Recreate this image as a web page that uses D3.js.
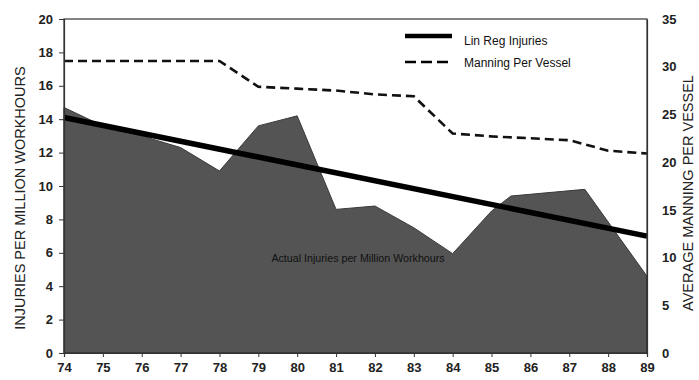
<!DOCTYPE html>
<html><head><meta charset="utf-8">
<script src="https://cdn.jsdelivr.net/npm/d3@7"></script>
<style>
html,body{margin:0;padding:0;background:#fff;}
text{font-family:"Liberation Sans",Arial,sans-serif;}
</style></head>
<body><svg id="c" width="699" height="380"></svg>
<script>
// ---- data ----
const yearTicks = [74,75,76,77,78,79,80,81,82,83,84,85,86,87,88,89];
const leftTicks = [0,2,4,6,8,10,12,14,16,18,20];
const rightTicks = [0,5,10,15,20,25,30,35];
const injuryYears  = [74, 75, 76, 77, 78, 79, 80, 81, 82, 83, 84, 85, 85.5, 87.4, 89];
const injuryValues = [14.7,13.6,13.0,12.3,10.9,13.6,14.2,8.6,8.8,7.5,5.95,8.5,9.4,9.8,4.6];
const regYears  = [74, 89];
const regValues = [14.1, 7.0];
const manningYears  = [74,75,76,77,78,79,80,81,82,83,84,85,86,87,88,89];
const manningValues = [30.6,30.6,30.6,30.6,30.6,27.9,27.7,27.5,27.1,26.9,23.0,22.7,22.5,22.3,21.2,20.9];
const legendLabels = ["Lin Reg Injuries","Manning Per Vessel"];
const areaLabel = "Actual Injuries per Million Workhours";
const leftTitle = "INJURIES PER MILLION WORKHOURS";
const rightTitle = "AVERAGE MANNING PER VESSEL";

// ---- layout ----
const svg = d3.select("#c");
const X0 = 64, X1 = 647, Y0 = 353, Y1 = 19;
const x = d3.scaleLinear().domain([74,89]).range([X0,X1]);
const yL = d3.scaleLinear().domain([0,20]).range([Y0,Y1]);
const yR = d3.scaleLinear().domain([0,35]).range([Y0,Y1]);

// area
const inj = injuryYears.map((d,i)=>({x:d,y:injuryValues[i]}));
svg.append("path").datum(inj)
  .attr("d", d3.area().x(d=>x(d.x)).y0(yL(0)).y1(d=>yL(d.y)))
  .attr("fill","#545454").attr("stroke","#3a3a3a").attr("stroke-width",1);

svg.append("text").attr("x",358).attr("y",262).attr("text-anchor","middle")
  .attr("font-size",10.7).attr("fill","#111").text(areaLabel);

// manning dashed
const man = manningYears.map((d,i)=>({x:d,y:manningValues[i]}));
svg.append("path").datum(man)
  .attr("d", d3.line().x(d=>x(d.x)).y(d=>yR(d.y)))
  .attr("fill","none").attr("stroke","#111").attr("stroke-width",2.6)
  .attr("stroke-dasharray","9,5");

// regression
const reg = regYears.map((d,i)=>({x:d,y:regValues[i]}));
svg.append("path").datum(reg)
  .attr("d", d3.line().x(d=>x(d.x)).y(d=>yL(d.y)))
  .attr("fill","none").attr("stroke","#000").attr("stroke-width",5.5);

// frame
svg.append("rect").attr("x",X0).attr("y",Y1).attr("width",X1-X0).attr("height",Y0-Y1)
  .attr("fill","none").attr("stroke","#333").attr("stroke-width",1.2);

// axes
const fs = 13;
const gL = svg.append("g").attr("transform",`translate(${X0},0)`)
  .call(d3.axisLeft(yL).tickValues(leftTicks).tickSize(5).tickPadding(6));
const gR = svg.append("g").attr("transform",`translate(${X1},0)`)
  .call(d3.axisRight(yR).tickValues(rightTicks).tickSize(0).tickPadding(15));
const gB = svg.append("g").attr("transform",`translate(0,${Y0})`)
  .call(d3.axisBottom(x).tickValues(yearTicks).tickSize(4).tickPadding(6));
[gL,gR,gB].forEach(g=>{
  g.select(".domain").attr("stroke","#333").attr("stroke-width",1.2);
  g.selectAll(".tick line").attr("stroke","#333");
  g.selectAll(".tick text").attr("font-size",fs).attr("font-weight","bold")
    .attr("fill","#222").style("font-family","'Liberation Sans',Arial,sans-serif");
});

// titles
svg.append("text").attr("transform","translate(25,198) rotate(-90)")
  .attr("text-anchor","middle").attr("font-size",14.5).attr("fill","#222").text(leftTitle);
svg.append("text").attr("transform","translate(693,193) rotate(-90)")
  .attr("text-anchor","middle").attr("font-size",14.5).attr("fill","#222").text(rightTitle);

// legend
const lg = svg.append("g");
lg.append("line").attr("x1",405).attr("x2",452).attr("y1",36).attr("y2",36)
  .attr("stroke","#000").attr("stroke-width",4.5);
lg.append("line").attr("x1",405).attr("x2",452).attr("y1",62).attr("y2",62)
  .attr("stroke","#000").attr("stroke-width",2.6).attr("stroke-dasharray","11,5");
lg.selectAll("text.lab").data(legendLabels).enter().append("text")
  .attr("x",464).attr("y",(d,i)=>45+i*22).attr("font-size",12).attr("fill","#111").text(d=>d);
</script></body></html>
